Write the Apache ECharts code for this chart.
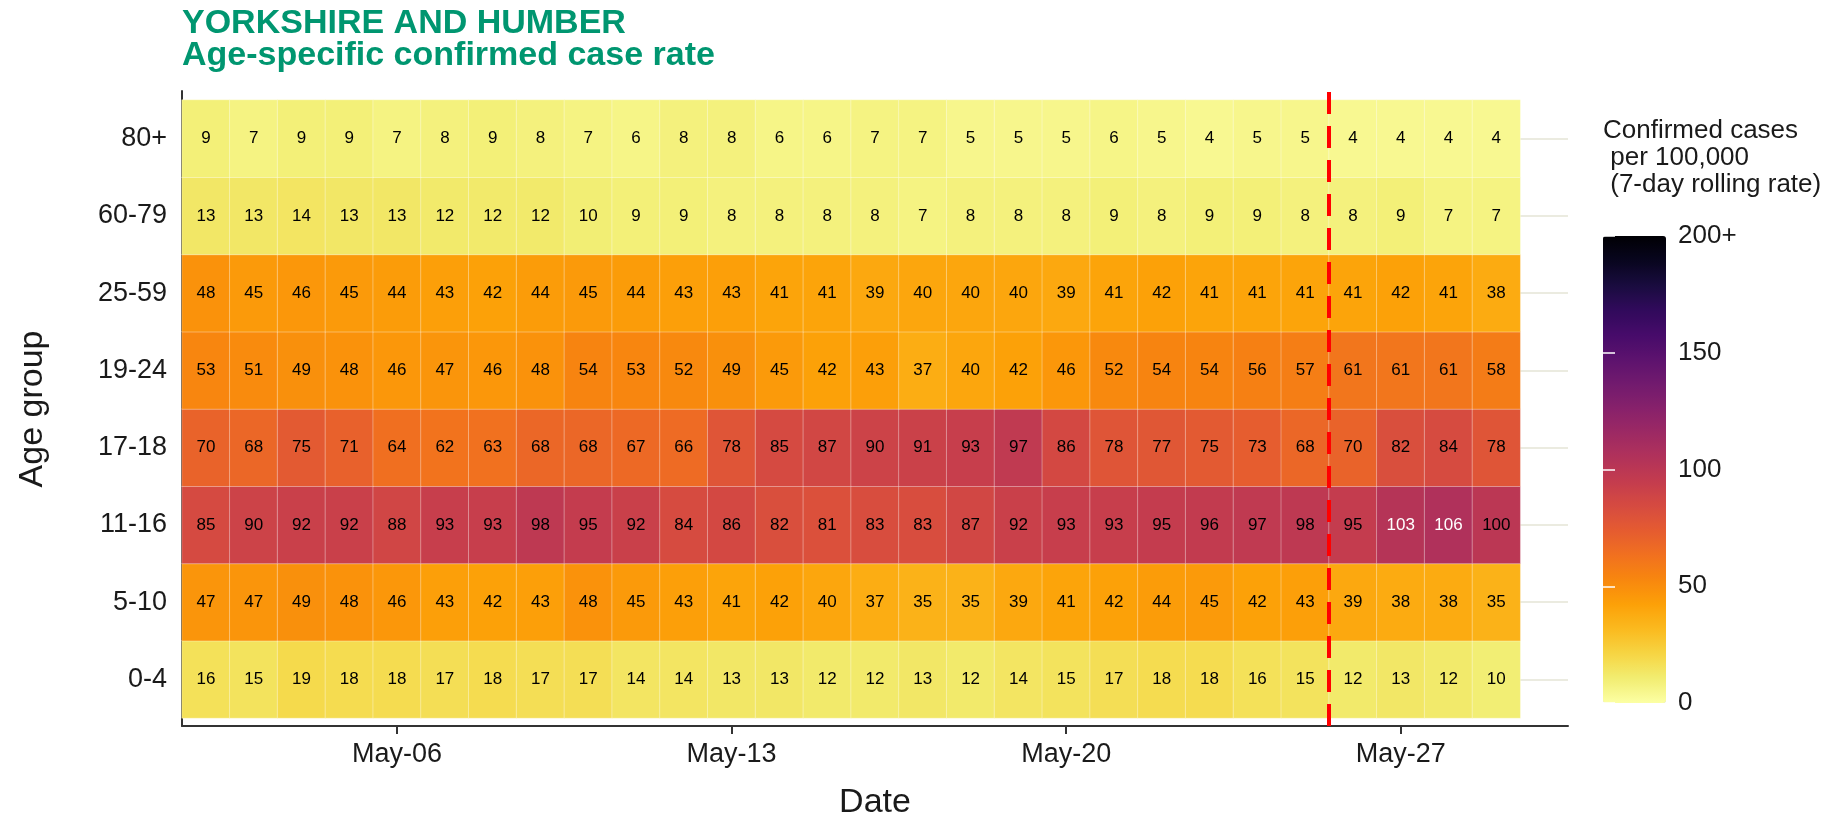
<!DOCTYPE html>
<html><head><meta charset="utf-8">
<script src="https://cdn.jsdelivr.net/npm/echarts@6/dist/echarts.min.js"></script>
<style>html,body{margin:0;padding:0;background:#fff}#c{width:1839px;height:816px}</style>
</head><body><div id="c"></div>
<script>
// Date axis categories (scale range of the reference: May-02 .. May-30)
const dates = ['May-02','May-03','May-04','May-05','May-06','May-07','May-08','May-09','May-10','May-11',
  'May-12','May-13','May-14','May-15','May-16','May-17','May-18','May-19','May-20','May-21',
  'May-22','May-23','May-24','May-25','May-26','May-27','May-28','May-29','May-30'];
const xTickLabels = ['May-06','May-13','May-20','May-27'];
const cutoffDate = 'May-26';
// Age groups, bottom to top
const ageGroups = ['0-4','5-10','11-16','17-18','19-24','25-59','60-79','80+'];

const rate_0_4   = [16,15,19,18,18,17,18,17,17,14,14,13,13,12,12,13,12,14,15,17,18,18,16,15,12,13,12,10];
const rate_5_10  = [47,47,49,48,46,43,42,43,48,45,43,41,42,40,37,35,35,39,41,42,44,45,42,43,39,38,38,35];
const rate_11_16 = [85,90,92,92,88,93,93,98,95,92,84,86,82,81,83,83,87,92,93,93,95,96,97,98,95,103,106,100];
const rate_17_18 = [70,68,75,71,64,62,63,68,68,67,66,78,85,87,90,91,93,97,86,78,77,75,73,68,70,82,84,78];
const rate_19_24 = [53,51,49,48,46,47,46,48,54,53,52,49,45,42,43,37,40,42,46,52,54,54,56,57,61,61,61,58];
const rate_25_59 = [48,45,46,45,44,43,42,44,45,44,43,43,41,41,39,40,40,40,39,41,42,41,41,41,41,42,41,38];
const rate_60_79 = [13,13,14,13,13,12,12,12,10,9,9,8,8,8,8,7,8,8,8,9,8,9,9,8,8,9,7,7];
const rate_80p   = [9,7,9,9,7,8,9,8,7,6,8,8,6,6,7,7,5,5,5,6,5,4,5,5,4,4,4,4];

const legendMin = 0, legendMax = 200, legendStep = 50;

const rows = [rate_0_4, rate_5_10, rate_11_16, rate_17_18, rate_19_24, rate_25_59, rate_60_79, rate_80p];
const heatData = [];
rows.forEach((vals, j) => {
  vals.forEach((v, i) => {
    heatData.push({ value: [i, j, v], label: { color: v > 100 ? '#ffffff' : '#000000' } });
  });
});

// inferno palette (20 stops), reversed: low = pale yellow, high = black
const infernoRev = ['#FCFFA4','#F1ED71','#F6D543','#FBBA1F','#FCA108','#F8870E','#F1711F','#E55C30','#D64B40','#C43C4E',
  '#B1325A','#9C2964','#87216B','#711A6E','#5C126E','#460B6A','#300A5B','#190C3E','#08051E','#000004'];
const FONT = '"Liberation Sans", Arial, sans-serif';
const TXT = '#1a1a1a';

const chart = echarts.init(document.getElementById('c'), null, { renderer: 'canvas' });
const option = {
  animation: false,
  backgroundColor: '#ffffff',
  title: [
    { text: 'YORKSHIRE AND HUMBER\nAge-specific confirmed case rate', left: 182, top: 8, padding: 0,
      textStyle: { fontFamily: FONT, fontSize: 34, fontWeight: 'bold', color: '#009670', lineHeight: 32 } },
    { text: 'Confirmed cases\n per 100,000\n (7-day rolling rate)', left: 1603, top: 117, padding: 0,
      textStyle: { fontFamily: FONT, fontSize: 26, fontWeight: 'normal', color: TXT, lineHeight: 27 } }
  ],
  grid: [
    { left: 182, top: 100, width: 1386, height: 618, outerBoundsMode: 'none', containLabel: false },
    { left: 182, top: 91, width: 1386, height: 635, outerBoundsMode: 'none', containLabel: false },
    { left: 1603, top: 236, width: 63, height: 467, outerBoundsMode: 'none', containLabel: false }
  ],
  xAxis: [
    { type: 'category', gridIndex: 0, data: dates, offset: 8,
      axisLine: { show: false },
      axisTick: { show: true, alignWithLabel: true, length: 8, interval: (i, v) => xTickLabels.includes(v),
        lineStyle: { color: '#333', width: 2 } },
      axisLabel: { interval: (i, v) => xTickLabels.includes(v), fontSize: 27, fontFamily: FONT, color: TXT, margin: 15 },
      splitLine: { show: false },
      name: 'Date', nameLocation: 'middle', nameGap: 60,
      nameTextStyle: { fontSize: 34, fontFamily: FONT, color: TXT } },
    { type: 'value', gridIndex: 1, min: 0, max: dates.length,
      axisLine: { show: true, onZero: false, lineStyle: { color: '#333', width: 2 } },
      axisTick: { show: false }, axisLabel: { show: false }, splitLine: { show: false } },
    { type: 'value', gridIndex: 2, min: 0, max: 1, show: false }
  ],
  yAxis: [
    { type: 'category', gridIndex: 0, data: ageGroups,
      axisLine: { show: false },
      axisTick: { alignWithLabel: true, length: 8, lineStyle: { color: '#333', width: 2 } },
      axisLabel: { fontSize: 27, fontFamily: FONT, color: TXT, margin: 15 },
      splitLine: { show: true, alignWithLabel: true, lineStyle: { color: '#EBEBE0', width: 2 } },
      name: 'Age group', nameLocation: 'middle', nameRotate: 90, nameGap: 132,
      nameTextStyle: { fontSize: 34, fontFamily: FONT, color: TXT } },
    { type: 'value', gridIndex: 1, min: 0, max: 1,
      axisLine: { show: true, onZero: false, lineStyle: { color: '#333', width: 2 } },
      axisTick: { show: false }, axisLabel: { show: false }, splitLine: { show: false } },
    { type: 'value', gridIndex: 2, min: legendMin, max: legendMax, interval: legendStep, position: 'right', z: 10,
      axisLine: { show: false },
      axisTick: { inside: true, length: 12, lineStyle: { color: '#ffffff', width: 1.5 } },
      axisLabel: { fontSize: 26, fontFamily: FONT, color: TXT, margin: 12,
        formatter: v => v === legendMax ? legendMax + '+' : String(v) },
      splitLine: { show: true, lineStyle: { color: '#ffffff', width: 1.5, type: [12, 60] } } }
  ],
  visualMap: {
    type: 'continuous', seriesIndex: 0, min: legendMin, max: legendMax, calculable: false,
    orient: 'vertical', left: 1603, top: 236, itemWidth: 63, itemHeight: 467, padding: 0,
    showLabel: false, hoverLink: false, inRange: { color: infernoRev }
  },
  series: [
    { type: 'heatmap', xAxisIndex: 0, yAxisIndex: 0, data: heatData,
      label: { show: true, fontSize: 17, fontFamily: FONT, formatter: p => p.value[2] },
      itemStyle: { borderColor: 'rgba(255,255,255,0.35)', borderWidth: 1 },
      emphasis: { disabled: true } },
    { type: 'line', xAxisIndex: 1, yAxisIndex: 1, data: [], silent: true, z: 5,
      markLine: { silent: true, symbol: ['none', 'none'], label: { show: false },
        lineStyle: { color: '#FF0000', width: 4, type: [22, 12] },
        data: [{ xAxis: dates.indexOf(cutoffDate) }] } }
  ]
};
chart.setOption(option);
</script>
</body></html>
